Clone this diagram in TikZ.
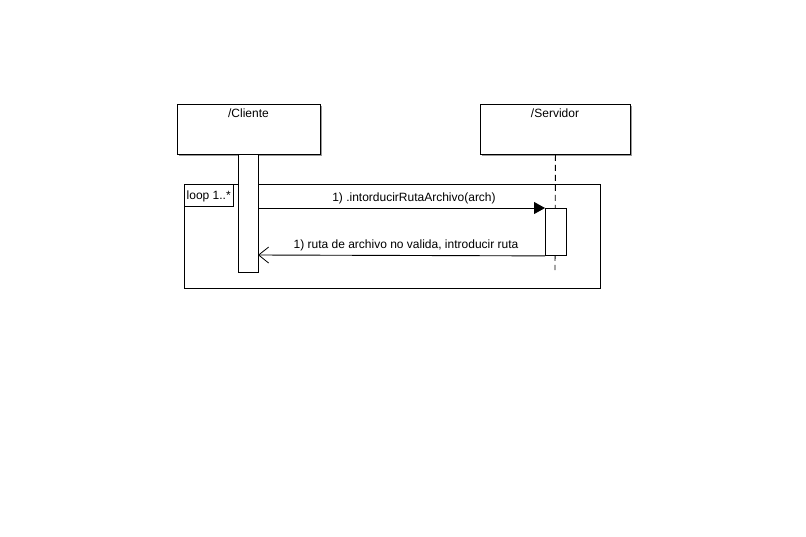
\documentclass[tikz,border=0pt]{standalone}
\usepackage{fontspec}
\setmainfont{Liberation Sans}
\usetikzlibrary{arrows.meta,shadows}
\begin{document}
\begin{tikzpicture}[x=1pt,y=-1pt,
  every node/.style={font=\fontsize{12}{14}\selectfont, inner sep=0pt},
  objbox/.style={draw=black, line width=0.9pt, fill=white, drop shadow={shadow xshift=2pt, shadow yshift=-2pt, fill=black!40, opacity=1}},
  actbox/.style={draw=black, line width=0.9pt, fill=white},
  msg/.style={line width=0.9pt},
  lbl/.style={anchor=base}
]
\useasboundingbox (0,0) rectangle (806,536);
% objects
\node[objbox, minimum width=143pt, minimum height=50pt, anchor=north west] (cli) at (177,104) {};
\node[anchor=base] (clit) at (248.5,117) {/Cliente};
\node[objbox, minimum width=150pt, minimum height=50pt, anchor=north west] (srv) at (480,104) {};
\node[anchor=base] (srvt) at (555,117) {/Servidor};
% server lifeline
\coordinate (srvend) at (555,270);
\draw[line width=0.9pt, dash pattern=on 6pt off 4pt] (srv.south) -- (srvend);
% loop frame
\node[draw=black, line width=0.9pt, minimum width=416pt, minimum height=104pt, anchor=north west] (loop) at (184,184) {};
\node[draw=black, line width=0.9pt, minimum width=49pt, minimum height=22pt, anchor=north west] (loopl) at (184,184) {};
\node[anchor=base west] (loopt) at (186.5,199) {loop 1..*};
% client activation
\node[actbox, minimum width=20pt, minimum height=118pt, anchor=north west] (cact) at (238,154) {};
% server activation
\node[actbox, minimum width=21pt, minimum height=47pt, anchor=north west] (sact) at (545,208) {};
% messages
\coordinate (m1s) at (258,208);
\draw[msg, -{Triangle[length=11pt,width=12pt]}] (m1s) -- (sact.north west);
\node[lbl] (m1t) at (414,201) {1) .intorducirRutaArchivo(arch)};
\coordinate (m2e) at (258,255);
\draw[msg, -{Straight Barb[length=10pt,width=16pt,line width=0.8pt]}] (sact.south west) -- (m2e);
\node[lbl] (m2t) at (406,248) {1) ruta de archivo no valida, introducir ruta};
\end{tikzpicture}
\end{document}
